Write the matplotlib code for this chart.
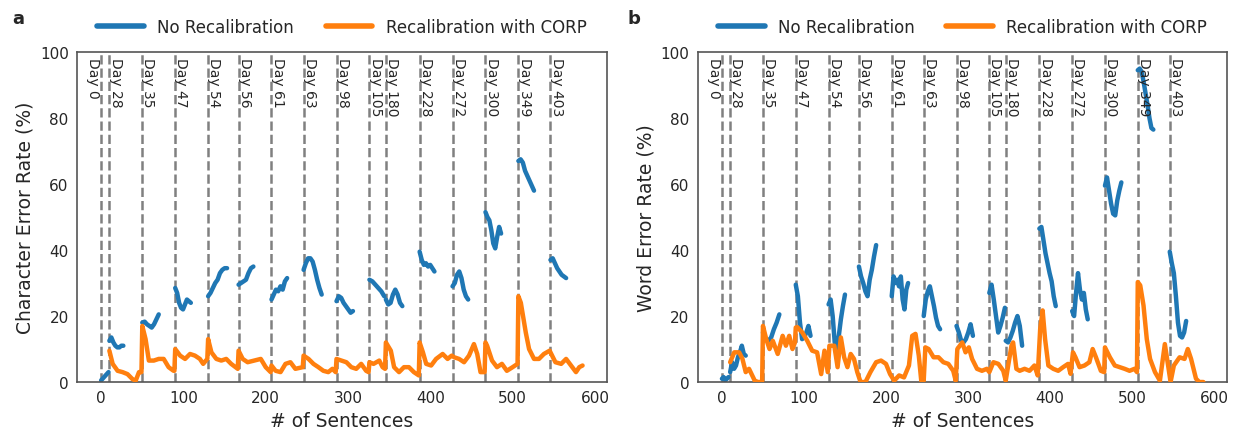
import matplotlib

matplotlib.use("Agg")
import matplotlib.pyplot as plt
import numpy as np

# session boundaries (sentence index where each recording day starts)
day_labels = ["Day 0", "Day 28", "Day 35", "Day 47", "Day 54", "Day 56", "Day 61", "Day 63",
              "Day 98", "Day 105", "Day 180", "Day 228", "Day 272", "Day 300", "Day 349", "Day 403"]
day_starts = [0, 10, 50, 90, 130, 167, 207, 246, 286, 326, 346, 387, 427, 467, 507, 546]

# --- panel a: character error rate ---
cer_blue_end = [9, 27, 70, 109, 153, 185, 226, 268, 306, 344, 366, 405, 446, 486, 526, 565]
cer_blue = [
    [0.5, 1.0, 1.5, 2.0, 2.5, 3.0],
    [12.5, 13.5, 12, 11, 10.5, 10.5, 11, 11],
    [18, 18.3, 17.5, 17, 16.5, 17.5, 19, 20.5],
    [28.5, 27, 24, 22.5, 22, 23.5, 25, 24.5, 24],
    [26, 27, 28.5, 30, 31, 33, 34, 34.5, 34.5],
    [29.5, 30, 30.5, 31, 33, 34.5, 35],
    [25, 26.5, 28, 27.5, 29, 28, 30.5, 31.5],
    [34, 36, 37.5, 37.5, 36.5, 34, 31, 28.5, 26.5],
    [24.5, 26, 25.5, 24, 23, 22, 21, 21.5],
    [31, 30.5, 29.5, 28.5, 27.5, 26],
    [25, 23.5, 24, 26.5, 28, 26.5, 24, 23],
    [39.5, 37, 35.5, 36, 35, 35.5, 34.5, 33.5],
    [29, 30, 32.5, 33.5, 31.5, 28, 26, 25],
    [51.5, 50, 49, 46, 42, 40.5, 44, 47, 45],
    [67, 67.5, 66.5, 64, 62.5, 61, 59.5, 58],
    [37, 37.5, 36, 34.5, 33.5, 32.5, 32, 31.5],
]
cer_corp_x = [10, 14, 20, 26, 32, 38, 42, 46, 49, 50, 54, 58, 64, 70, 76, 82, 88, 89, 90, 96,
              102, 108, 114, 120, 124, 129, 130, 134, 140, 146, 152, 158, 166, 167, 172, 178, 186,
              194, 200, 206, 207, 212, 218, 224, 230, 236, 245, 246, 252, 258, 264, 270, 276, 281,
              285, 286, 292, 298, 304, 310, 316, 322, 325, 326, 331, 338, 342, 345, 346, 352, 356,
              362, 368, 374, 380, 386, 387, 391, 395, 401, 407, 415, 421, 426, 429, 435, 441, 447,
              453, 457, 461, 466, 467, 469, 475, 481, 487, 493, 500, 506, 507, 510, 516, 520, 526,
              532, 538, 545, 548, 552, 559, 565, 571, 577, 581, 585]
cer_corp = [9.5, 5.5, 3.4, 3, 2.4, 0.9, 0.4, 3, 3, 17, 13, 6.5, 6.5, 7, 7, 4.5, 3.4, 3.4, 10, 8,
            7, 8.5, 8, 7, 5.5, 7, 13, 9, 7, 6.5, 7, 5.5, 4, 9.5, 7, 6, 6.5,
            7, 4.5, 3, 5, 3.4, 3, 5.5, 6, 4, 4.5, 8, 7, 5.5, 4.5, 3.4, 3, 4,
            3, 7, 6.5, 6, 4.5, 4, 5.5, 3.4, 3, 6, 5.5, 6.5, 4.5, 4, 12, 9.5, 4.5,
            3, 4.5, 4.5, 3, 2, 12, 9, 5.5, 5, 7, 8.5, 7, 8, 7.5, 7, 6, 8,
            11.5, 8.5, 3, 3, 12, 11, 6.5, 4.5, 5.5, 3.4, 4.5, 5.5, 26, 24, 15, 10, 7,
            7, 8.5, 9.5, 8, 6, 5.5, 7, 5, 3, 4.5, 5]

# --- panel b: word error rate ---
wer_blue_end = [8, 29, 70, 108, 150, 188, 227, 266, 306, 345, 366, 407, 446, 487, 526, 566]
wer_blue = [
    [1, 1.5, 0.5, 1, 1.5],
    [3, 6, 4, 5, 7.5, 9, 11, 8.5, 8],
    [15, 13, 12.5, 13.5, 16, 18, 20.5],
    [29.5, 26, 18, 13, 13.5, 15, 17, 14],
    [23.5, 25, 20, 12, 10, 14, 19, 23, 26.5],
    [35, 32, 30, 27.5, 26, 31, 34, 38, 41.5],
    [26, 32, 30, 31, 29, 32, 25, 22, 28, 30],
    [20, 25, 27.5, 29, 26, 23, 19.5, 17, 16],
    [17, 15, 12.5, 12, 13, 15, 17.5, 14],
    [27, 29.5, 25, 20, 15, 17, 19.5, 22.5],
    [12.5, 12, 13.5, 15.5, 18, 20, 17, 11],
    [46.5, 47, 43, 39, 36, 33, 30.5, 26, 23],
    [21.5, 20, 27, 33, 28, 25, 27, 22, 19],
    [59.5, 62, 58, 54, 51, 50.5, 55, 58, 60.5],
    [94.5, 95, 94, 91, 87.5, 84, 80, 77, 76.5],
    [39.5, 36, 33, 26, 18, 14, 13.5, 15, 18.5],
]
wer_corp_x = [10, 15, 21, 25, 29, 33, 40, 44, 49, 50, 54, 58, 62, 68, 74, 78, 82, 86, 89, 90,
              92, 98, 104, 110, 116, 121, 125, 129, 131, 137, 141, 145, 149, 153, 157, 161, 165,
              169, 175, 181, 188, 194, 200, 205, 210, 216, 222, 228, 232, 236, 240, 243, 246, 248,
              252, 258, 264, 270, 276, 282, 285, 287, 293, 297, 301, 305, 311, 317, 323, 326, 331,
              337, 343, 346, 349, 353, 355, 359, 363, 369, 375, 381, 385, 388, 391, 394, 398, 404,
              410, 416, 422, 425, 428, 431, 436, 442, 448, 452, 456, 462, 466, 467, 473, 479, 485,
              491, 497, 503, 506, 507, 510, 514, 518, 522, 528, 534, 540, 544, 547, 551, 558, 564,
              568, 572, 578, 582, 587]
wer_corp = [6, 9, 9, 7, 3, 4, 0.4, 0, 0, 17, 13, 10, 12.5, 8.5, 14, 11, 14, 10, 12, 16.5,
            16.6, 15, 12.5, 9.5, 9, 2.4, 9.5, 3, 11, 11, 4.5, 13.5, 7.5, 4.5, 8.5, 7, 3,
            0, 0, 3, 6, 6.5, 5.5, 2.4, 0.4, 2, 1.4, 5, 14, 14.6, 8, 0.4, 0.4, 10.5,
            10, 7.5, 7.5, 6, 5.5, 3.4, 0.4, 10, 12, 9, 10.5, 7, 4, 3.4, 4, 3, 6,
            5.5, 3.4, 0.4, 5, 11, 12, 4, 3.4, 4, 3.4, 5, 2, 16, 21.7, 13, 5, 4,
            3.4, 4.5, 5.5, 2.5, 9, 7.5, 4.5, 5, 6, 10, 7.5, 3.4, 3, 10.5, 7.5, 5, 4.5,
            4, 3.4, 4, 3, 30.3, 29.3, 23.2, 13, 7, 3, 0.4, 11.5, 5, 0, 5, 7.5, 7,
            10, 7, 1, 0, 0]

plt.rcParams.update({
    "font.family": "DejaVu Sans",
    "text.color": "#262626",
    "axes.labelcolor": "#262626",
    "xtick.color": "#262626",
    "ytick.color": "#262626",
    "axes.edgecolor": "#555555",
    "axes.linewidth": 1.2,
})

fig = plt.figure(figsize=(12.33, 4.35), dpi=100)
ax_a = fig.add_axes([0.0625, 0.1195, 0.4295, 0.7585])
ax_b = fig.add_axes([0.566, 0.1195, 0.4295, 0.7585])

panels = [
    (ax_a, cer_blue, cer_blue_end, cer_corp_x, cer_corp, "Character Error Rate (%)", "a"),
    (ax_b, wer_blue, wer_blue_end, wer_corp_x, wer_corp, "Word Error Rate (%)", "b"),
]

for ax, blue, blue_end, corp_x, corp, ylabel, letter in panels:
    for i, (start, label) in enumerate(zip(day_starts, day_labels)):
        ax.axvline(start, color="#808080", linestyle="--", linewidth=1.8, zorder=1)
        if i == 0:
            # first label sits to the left of its line so it does not collide with Day 28
            ax.text(start - 1, 98.5, label, rotation=270, ha="right", va="top", fontsize=10)
        else:
            ax.text(start - 1, 98.5, label, rotation=270, ha="left", va="top", fontsize=10)

    for i, (start, end, vals) in enumerate(zip(day_starts, blue_end, blue)):
        xs = np.linspace(start, end, len(vals))
        ax.plot(xs, vals, color="#1f77b4", linewidth=3.2, solid_capstyle="round",
                label="No Recalibration" if i == 0 else None, zorder=2)
    ax.plot(corp_x, corp, color="#ff7f0e", linewidth=3.2, solid_capstyle="round",
            label="Recalibration with CORP", zorder=3)

    ax.set_ylim(0, 100)
    ax.set_yticks([0, 20, 40, 60, 80, 100])
    ax.set_xticks([0, 100, 200, 300, 400, 500, 600])
    ax.tick_params(length=0, labelsize=11, pad=6)
    ax.set_xlabel("# of Sentences", fontsize=13.5)
    ax.set_ylabel(ylabel, fontsize=13.5)
    leg = ax.legend(loc="center", bbox_to_anchor=(0.5, 1.075), ncol=2, frameon=False,
                    fontsize=12, handlelength=2.8, columnspacing=1.9, handletextpad=0.8)
    for line in leg.get_lines():
        line.set_linewidth(4)

fig.text(18 / 1233, 1 - 19 / 435, "a", fontsize=13, fontweight="bold", ha="center", va="center")
fig.text(634 / 1233, 1 - 19 / 435, "b", fontsize=13, fontweight="bold", ha="center", va="center")

fig.savefig("out.png", dpi=100)
